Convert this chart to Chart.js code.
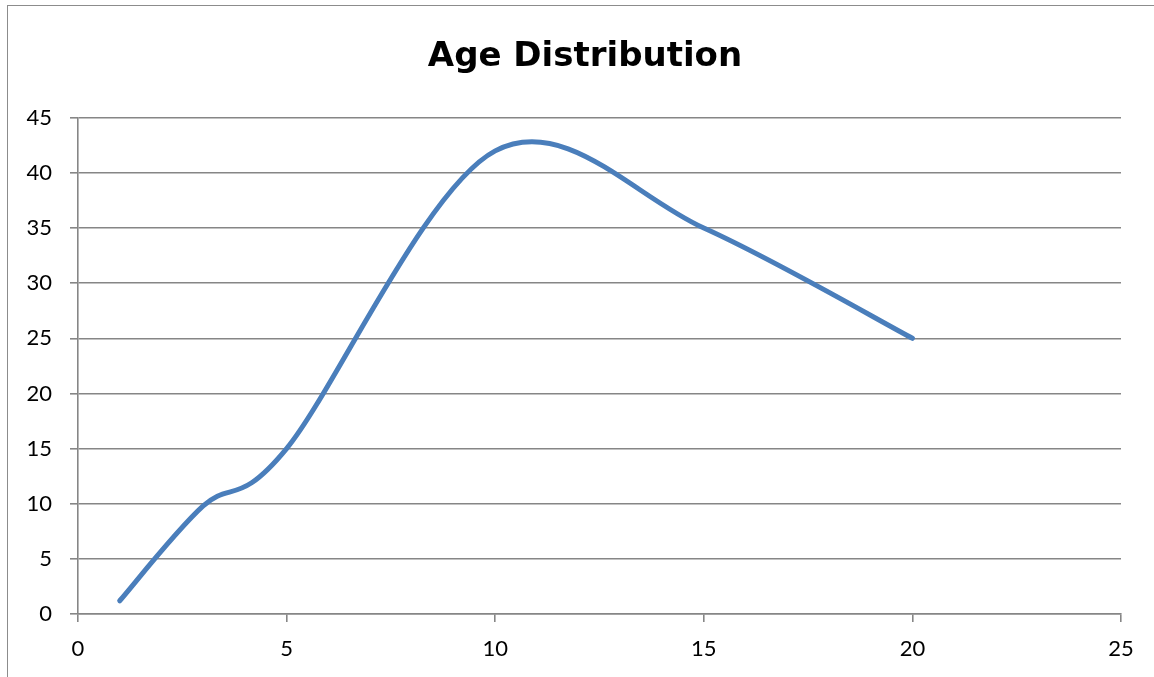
<!DOCTYPE html>
<html>
<head>
<meta charset="utf-8">
<title>Age Distribution</title>
<script src="https://cdn.jsdelivr.net/npm/chart.js@4/dist/chart.umd.min.js"></script>
<style>
  html, body { margin: 0; padding: 0; background: #ffffff; overflow: hidden; }
  #wrap { position: relative; width: 1154px; height: 677px; overflow: hidden; }
  #frame { position: absolute; left: 7px; top: 5px; width: 2000px; height: 2000px;
           border: 1.6px solid #8c8c8c; box-sizing: border-box; }
  #chart { position: absolute; left: 0; top: 0; }
</style>
</head>
<body>
<div id="wrap">
  <div id="frame"></div>
  <canvas id="chart" width="1154" height="677"></canvas>
</div>
<script>
// Sample points (x, count)
const xValues = [1, 3, 5, 10, 15, 20];
const yValues = [1.2, 9.8, 15, 42, 35, 25];

// Axis ranges and steps
const xTicks = [0, 5, 10, 15, 20, 25];
const yTicks = [0, 5, 10, 15, 20, 25, 30, 35, 40, 45];

const FONT = 'Lato, "Open Sans", "Liberation Sans", sans-serif';
const TITLE_FONT = '"DejaVu Sans", Lato, sans-serif';
const GRID = '#868686';
const LINE = '#4a7ebb';

// Horizontal extent of the framed chart box (the title is centred over it)
const FRAME_LEFT = 8;
const FRAME_RIGHT = 1162;

// Smooth the series with uniform Catmull-Rom control points (1/6 of the
// neighbour span), computed from the points' pixel positions on the scales.
const smoothCurve = {
  id: 'smoothCurve',
  beforeDatasetDraw(chart, args) {
    const meta = args.meta;
    const line = meta.dataset;
    const pts = meta.data;
    if (!line || pts.length < 2) return;
    if (typeof line.updateControlPoints === 'function') {
      line.updateControlPoints(chart.chartArea, 'x');
    }
    const n = pts.length;
    for (let i = 0; i < n; i++) {
      const prev = pts[Math.max(i - 1, 0)];
      const cur = pts[i];
      const next = pts[Math.min(i + 1, n - 1)];
      const dx = (next.x - prev.x) / 6;
      const dy = (next.y - prev.y) / 6;
      cur.cp1x = cur.x - dx; cur.cp1y = cur.y - dy;
      cur.cp2x = cur.x + dx; cur.cp2y = cur.y + dy;
    }
    line._path = undefined;
  }
};

// Centre the title over the whole frame rather than the padded layout box.
const centreTitle = {
  id: 'centreTitle',
  afterLayout(chart) {
    const t = chart.titleBlock;
    if (t) {
      t.left = FRAME_LEFT;
      t.right = FRAME_RIGHT;
      t.width = FRAME_RIGHT - FRAME_LEFT;
    }
  }
};

const points = xValues.map((x, i) => ({ x: x, y: yValues[i] }));

new Chart(document.getElementById('chart'), {
  type: 'line',
  data: {
    datasets: [{
      label: 'Age',
      data: points,
      borderColor: LINE,
      borderWidth: 5,
      borderCapStyle: 'round',
      borderJoinStyle: 'round',
      pointRadius: 0,
      pointHoverRadius: 0,
      fill: false,
      tension: 0.4,
      capBezierPoints: false
    }]
  },
  plugins: [smoothCurve, centreTitle],
  options: {
    responsive: false,
    animation: false,
    events: [],
    layout: { padding: { left: 0, right: 33, top: 0, bottom: 0 } },
    plugins: {
      legend: { display: false },
      tooltip: { enabled: false },
      title: {
        display: true,
        text: 'Age Distribution',
        color: '#000000',
        font: { family: TITLE_FONT, size: 34, weight: 'bold', lineHeight: 1.2 },
        padding: { top: 37, bottom: 40 }
      }
    },
    scales: {
      x: {
        type: 'linear',
        min: xTicks[0],
        max: xTicks[xTicks.length - 1],
        afterBuildTicks(scale) { scale.ticks = xTicks.map(v => ({ value: v })); },
        ticks: { color: '#000000', font: { family: FONT, size: 22 }, padding: 14, maxRotation: 0 },
        grid: { drawOnChartArea: false, drawTicks: true, tickLength: 8, color: GRID, lineWidth: 1.6 },
        border: { display: true, color: GRID, width: 1.6 },
        afterFit(scale) { scale.height = 63; }
      },
      y: {
        type: 'linear',
        min: yTicks[0],
        max: yTicks[yTicks.length - 1],
        afterBuildTicks(scale) { scale.ticks = yTicks.map(v => ({ value: v })); },
        ticks: { color: '#000000', font: { family: FONT, size: 22 }, padding: 18 },
        grid: { drawOnChartArea: true, drawTicks: true, tickLength: 8, color: GRID, lineWidth: 1.6 },
        border: { display: true, color: GRID, width: 1.6 },
        afterFit(scale) { scale.width = 78; }
      }
    }
  }
});
</script>
</body>
</html>
